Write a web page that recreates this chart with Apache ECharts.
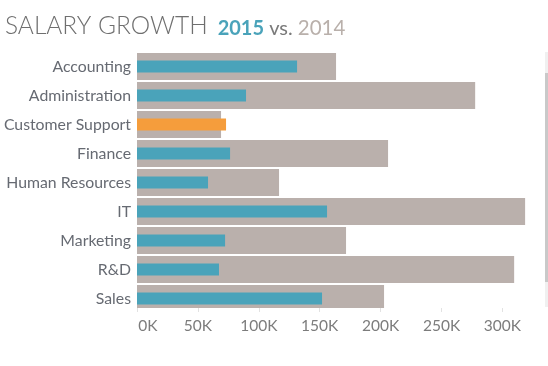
<!DOCTYPE html>
<html>
<head>
<meta charset="utf-8">
<script src="https://cdn.jsdelivr.net/npm/echarts@6/dist/echarts.min.js"></script>
<style>html,body{margin:0;padding:0;background:#fff;}#c{width:548px;height:366px;}</style>
</head>
<body>
<div id="c"></div>
<script>
var categories = ['Accounting','Administration','Customer Support','Finance','Human Resources','IT','Marketing','R&D','Sales'];
var salary2014 = [163400, 277600, 69000, 206100, 116600, 318600, 171600, 309600, 202800];
var salary2015 = [131400, 89500, 73100, 76400, 58300, 156000, 72300, 67300, 151900];
var tickValues = [0, 50000, 100000, 150000, 200000, 250000, 300000];

var chart = echarts.init(document.getElementById('c'));
var FONT = 'Lato, "Noto Sans", sans-serif';
var yBase = {
  type: 'category', data: categories, inverse: true,
  axisLine: {show: false}, axisTick: {show: false}
};
chart.setOption({
  animation: false,
  title: {
    left: 0, top: 7,
    text: '{a|SALARY GROWTH}  {b|2015}{c| vs. }{d|2014}',
    textStyle: {
      fontWeight: 'normal',
      rich: {
        a: {fontFamily: FONT, fontSize: 24.5, fontWeight: 300, color: '#6f6f6f', verticalAlign: 'bottom', lineHeight: 27},
        b: {fontFamily: FONT, fontSize: 20, fontWeight: 'bold', color: '#4aa3ba', verticalAlign: 'bottom', lineHeight: 24},
        c: {fontFamily: FONT, fontSize: 20, fontWeight: 'normal', color: '#7a7a7a', verticalAlign: 'bottom', lineHeight: 24},
        d: {fontFamily: FONT, fontSize: 20.5, fontWeight: 'normal', color: '#b9b0ab', verticalAlign: 'bottom', lineHeight: 24}
      }
    }
  },
  grid: {left: 137, top: 52, height: 261, width: 402},
  xAxis: {
    type: 'value', min: 0, max: 330000, interval: 50000,
    offset: -5, z: 20,
    splitLine: {show: false},
    axisLine: {show: false},
    axisTick: {show: true, length: 4, lineStyle: {color: '#e2e2e2'}, customValues: tickValues},
    axisLabel: {
      customValues: tickValues, margin: 10,
      color: '#7c7c7c', fontFamily: FONT, fontSize: 15.5,
      formatter: function (v) {
        var t = (v / 1000) + 'K';
        return v === 0 ? '{first|' + t + '}' : t;
      },
      rich: {
        first: {color: '#7c7c7c', fontFamily: FONT, fontSize: 15.5, padding: [0, 0, 0, 22]}
      }
    }
  },
  yAxis: [
    Object.assign({}, yBase, {
      axisLabel: {color: '#666a72', fontFamily: FONT, fontSize: 15.8, margin: 6}
    }),
    Object.assign({}, yBase, {position: 'left', axisLabel: {show: false}})
  ],
  graphic: [
    {type: 'rect', z: 10, shape: {x: 137, y: 308, width: 405, height: 6}, style: {fill: '#ffffff'}},
    {type: 'rect', z: 10, shape: {x: 545, y: 52, width: 3, height: 255}, style: {fill: '#f0f0f0'}},
    {type: 'rect', z: 11, shape: {x: 545, y: 73, width: 3, height: 209}, style: {fill: '#c9c9c9'}}
  ],
  series: [
    {
      type: 'bar', name: '2014', data: salary2014, barWidth: 27, yAxisIndex: 0,
      itemStyle: {color: '#bab0ac'}, silent: true
    },
    {
      type: 'bar', name: '2015', data: salary2015, barWidth: 12, yAxisIndex: 1,
      itemStyle: {
        color: function (p) { return p.value > salary2014[p.dataIndex] ? '#f59d3c' : '#4aa3ba'; }
      },
      silent: true
    }
  ]
});
</script>
</body>
</html>
